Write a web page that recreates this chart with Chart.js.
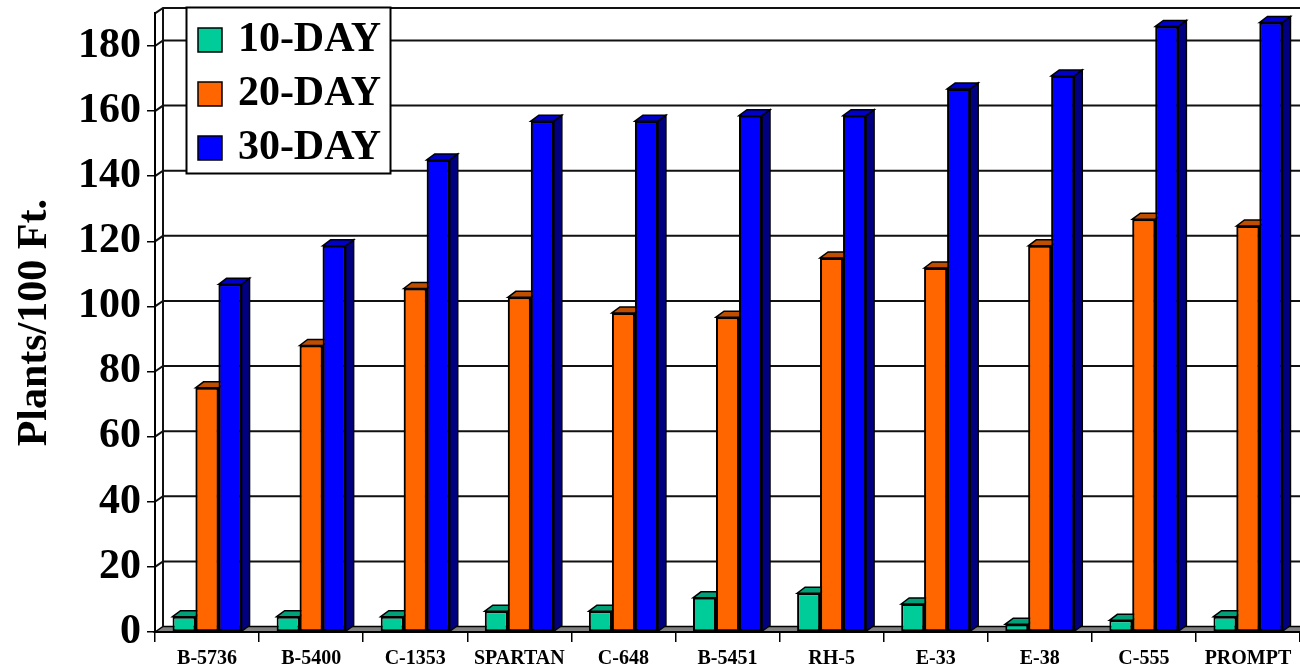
<!DOCTYPE html>
<html><head><meta charset="utf-8">
<script src="https://cdn.jsdelivr.net/npm/chart.js@4.4.1/dist/chart.umd.min.js"></script>
<style>html,body{margin:0;padding:0;background:#fff;}canvas{display:block;}</style>
</head><body>
<canvas id="c" width="1300" height="667"></canvas>
<script>
// ---- data ----
const categories = ['B-5736','B-5400','C-1353','SPARTAN','C-648','B-5451','RH-5','E-33','E-38','C-555','PROMPT'];
const day10 = [4.7, 4.7, 4.7, 6.4, 6.4, 10.5, 11.9, 8.6, 2.4, 3.6, 4.7];
const day20 = [75.0, 88.0, 105.5, 102.8, 98.0, 96.7, 114.9, 111.8, 118.6, 126.8, 124.7];
const day30 = [106.8, 118.6, 145.0, 156.9, 156.9, 158.6, 158.6, 166.8, 170.8, 186.0, 187.2];
const seriesNames = ['10-DAY', '20-DAY', '30-DAY'];
const yTickValues = [0, 20, 40, 60, 80, 100, 120, 140, 160, 180];
const yMax = 190;
const yTitle = 'Plants/100 Ft.';

// ---- styling ----
const FONT = 'Liberation Serif';
const frontColors = ['#00CC99', '#FF6600', '#0000FF'];
const topColors = ['#00A078', '#C04E00', '#0000C8'];
const sideColors = ['#006F55', '#8A3700', '#000080'];
const BAR_DX = 8, BAR_DY = 6;     // bar depth
const WALL_DX = 8, WALL_DY = 5.5; // wall depth
const LEG = {x: 186, y: 7, w: 204, h: 166, textRight: 381};

function drawFaces(ctx, bar, k) {
  const p = bar.getProps(['x', 'y', 'base', 'width'], true);
  const l = p.x - p.width / 2, r = p.x + p.width / 2, t = p.y, b = p.base;
  ctx.beginPath();
  ctx.moveTo(r, t);
  ctx.lineTo(r + BAR_DX, t - BAR_DY);
  ctx.lineTo(r + BAR_DX, b - BAR_DY);
  ctx.lineTo(r, b);
  ctx.closePath();
  ctx.fillStyle = sideColors[k];
  ctx.fill();
  ctx.stroke();
  ctx.beginPath();
  ctx.moveTo(l, t);
  ctx.lineTo(l + BAR_DX, t - BAR_DY);
  ctx.lineTo(r + BAR_DX, t - BAR_DY);
  ctx.lineTo(r, t);
  ctx.closePath();
  ctx.fillStyle = topColors[k];
  ctx.fill();
  ctx.stroke();
}

const threeD = {
  id: 'threeD',
  afterLayout(chart) {
    const lg = chart.legend;
    if (!lg) return;
    lg.left = LEG.x; lg.top = LEG.y;
    lg.right = LEG.textRight; lg.bottom = 667;
    lg.width = lg.right - lg.left; lg.height = lg.bottom - lg.top;
  },
  beforeDraw(chart) {
    const {ctx, chartArea: ca, scales} = chart;
    const ys = scales.y;
    const y0 = ys.getPixelForValue(0);
    const yT = ys.getPixelForValue(yMax);
    ctx.save();
    ctx.lineJoin = 'miter';
    ctx.beginPath();
    ctx.moveTo(ca.left, y0);
    ctx.lineTo(ca.left + WALL_DX, y0 - WALL_DY);
    ctx.lineTo(ca.right + WALL_DX, y0 - WALL_DY);
    ctx.lineTo(ca.right, y0);
    ctx.closePath();
    ctx.fillStyle = '#808080';
    ctx.fill();
    ctx.strokeStyle = '#000';
    ctx.lineWidth = 1.5;
    ctx.stroke();
    ctx.lineWidth = 2;
    ctx.strokeStyle = '#111';
    yTickValues.forEach(v => {
      if (v === 0) return;
      const py = ys.getPixelForValue(v);
      ctx.beginPath();
      ctx.moveTo(ca.left, py);
      ctx.lineTo(ca.left + WALL_DX, py - WALL_DY);
      ctx.lineTo(ca.right + WALL_DX, py - WALL_DY);
      ctx.stroke();
    });
    ctx.beginPath();
    ctx.moveTo(ca.left, yT);
    ctx.lineTo(ca.left + WALL_DX, yT - WALL_DY);
    ctx.lineTo(ca.right + WALL_DX, yT - WALL_DY);
    ctx.stroke();
    ctx.beginPath();
    ctx.moveTo(ca.left + WALL_DX, yT - WALL_DY);
    ctx.lineTo(ca.left + WALL_DX, y0 - WALL_DY);
    ctx.stroke();
    ctx.fillStyle = '#fff';
    ctx.fillRect(LEG.x, LEG.y, LEG.w, LEG.h);
    ctx.lineWidth = 2;
    ctx.strokeStyle = '#000';
    ctx.strokeRect(LEG.x + 0.5, LEG.y + 0.5, LEG.w, LEG.h);
    ctx.restore();
  },
  afterDatasetsDraw(chart) {
    const {ctx} = chart;
    const n = chart.data.datasets.length;
    ctx.save();
    ctx.strokeStyle = '#000';
    ctx.lineWidth = 1.5;
    ctx.lineJoin = 'miter';
    for (let k = 0; k < n; k++) {
      const meta = chart.getDatasetMeta(k);
      meta.data.forEach(bar => drawFaces(ctx, bar, k));
      if (k + 1 < n) {
        // re-draw the neighbouring front faces so they cover these side faces
        chart.getDatasetMeta(k + 1).data.forEach(bar => { ctx.save(); bar.draw(ctx); ctx.restore(); });
        ctx.strokeStyle = '#000';
        ctx.lineWidth = 1.5;
      }
    }
    ctx.restore();
  }
};

Chart.defaults.font.family = FONT;
Chart.defaults.color = '#000';

const seriesData = [day10, day20, day30];
new Chart(document.getElementById('c'), {
  type: 'bar',
  data: {
    labels: categories,
    datasets: seriesNames.map((name, k) => ({
      label: name,
      data: seriesData[k],
      backgroundColor: frontColors[k],
      borderColor: '#000',
      borderWidth: 2,
      borderSkipped: false,
      categoryPercentage: 0.663,
      barPercentage: 1.0
    }))
  },
  options: {
    responsive: false,
    animation: false,
    layout: {padding: {top: 13.4, left: 0, right: 0, bottom: 0}},
    plugins: {
      legend: {
        display: true,
        position: 'chartArea',
        align: 'start',
        labels: {
          font: {size: 42, weight: 'bold', family: FONT},
          color: '#000',
          boxWidth: 24,
          boxHeight: 24,
          padding: 12,
          textAlign: 'right',
          generateLabels: (chart) => chart.data.datasets.map((ds, k) => ({
            text: ds.label,
            fillStyle: ds.backgroundColor,
            strokeStyle: '#000',
            lineWidth: 1.5,
            datasetIndex: k,
            hidden: false
          }))
        }
      },
      tooltip: {enabled: false}
    },
    scales: {
      x: {
        grid: {drawOnChartArea: false, drawTicks: true, tickLength: 10, color: '#000', lineWidth: 1.5, offset: true},
        border: {display: true, color: '#000', width: 2},
        ticks: {font: {size: 20, weight: 'bold', family: FONT}, color: '#000', padding: 5, maxRotation: 0, autoSkip: false},
        afterFit(s) { s.height = 35; s.paddingLeft = 0; s.paddingRight = 0; }
      },
      y: {
        min: 0,
        max: yMax,
        ticks: {stepSize: 20, font: {size: 42, weight: 'bold', family: FONT}, color: '#000', padding: 6},
        afterBuildTicks(s) { s.ticks = yTickValues.map(v => ({value: v})); },
        grid: {drawOnChartArea: false, drawTicks: true, tickLength: 8, color: '#000', lineWidth: 1.5},
        border: {display: true, color: '#000', width: 2},
        title: {display: true, text: yTitle, font: {size: 42, weight: 'bold', family: FONT}, color: '#000', padding: {top: 10, bottom: 0}},
        afterFit(s) { s.width = 155; s.paddingTop = 0; s.paddingBottom = 0; }
      }
    }
  },
  plugins: [threeD]
});
</script>
</body></html>
